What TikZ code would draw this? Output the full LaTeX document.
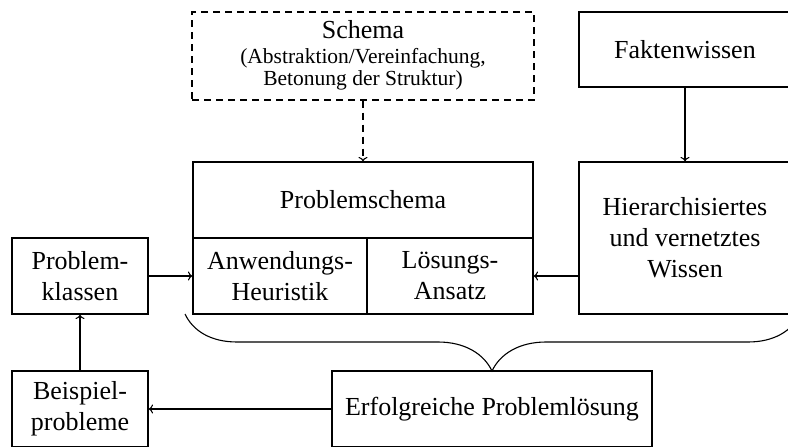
\documentclass[tikz,border=0pt]{standalone}
\usepackage{fontspec}
\setmainfont{Liberation Serif}
\usetikzlibrary{arrows.meta}
\newcommand\bigf{\fontsize{26}{31}\selectfont}
\newcommand\smallf{\fontsize{21.5}{22}\selectfont}
\begin{document}
\begin{tikzpicture}[x=1pt,y=-1pt,line width=1.1pt,
  box/.style={draw, rectangle, inner sep=0pt, align=center, font=\bigf},
  arr/.style={-{To[length=4.5pt,width=9pt]}},
  dsh/.style={dash pattern=on 7pt off 5pt}]
\useasboundingbox (0,0) rectangle (788,447);
\clip (0,0) rectangle (788,447);
% schema (dashed)
\node[box, dsh, minimum width=342pt, minimum height=88pt] (schema) at (363,56) {};
\node[anchor=base, font=\bigf, inner sep=0pt] (schematitle) at (363,38) {Schema};
\node[anchor=base, font=\smallf, inner sep=0pt] (schemal1) at (363,63) {(Abstraktion/Vereinfachung,};
\node[anchor=base, font=\smallf, inner sep=0pt] (schemal2) at (363,85) {Betonung der Struktur)};
% right column
\node[box, minimum width=212pt, minimum height=75pt] (fakten) at (685,49.5) {Faktenwissen};
\node[box, minimum width=212pt, minimum height=152pt] (hier) at (685,238) {Hierarchisiertes\\und vernetztes\\Wissen};
% problem schema
\node[box, minimum width=340pt, minimum height=76pt] (pstop) at (363,200) {Problemschema};
\node[box, minimum width=174pt, minimum height=76pt] (anw) at (280,276) {Anwendungs-\\Heuristik};
\node[box, minimum width=166pt, minimum height=76pt] (loe) at (450,276) {Lösungs-\\Ansatz};
% left column
\node[box, minimum width=136pt, minimum height=76pt] (klassen) at (80,276) {Problem-\\klassen};
\node[box, minimum width=136pt, minimum height=76pt] (beispiel) at (80,409) {Beispiel-\\probleme};
% bottom
\node[box, minimum width=320pt, minimum height=76pt] (erfolg) at (492,409) {Erfolgreiche Problemlösung};
% connectors
\draw[arr, dsh] (schema.south) -- (pstop.north);
\draw[arr] (fakten.south) -- (hier.north);
\draw[arr] (loe.east -| hier.west) -- (loe.east);
\draw[arr] (klassen.east) -- (anw.west);
\draw[arr] (beispiel.north) -- (klassen.south);
\draw[arr] (erfolg.west) -- (beispiel.east);
% brace
\draw (185,314) .. controls (193,331) and (211,342) .. (237,342)
  -- (438,342) .. controls (465,342) and (484,354) .. (492,371)
  .. controls (500,354) and (519,342) .. (546,342)
  -- (748,342) .. controls (774,342) and (792,331) .. (800,314);
\end{tikzpicture}
\end{document}
